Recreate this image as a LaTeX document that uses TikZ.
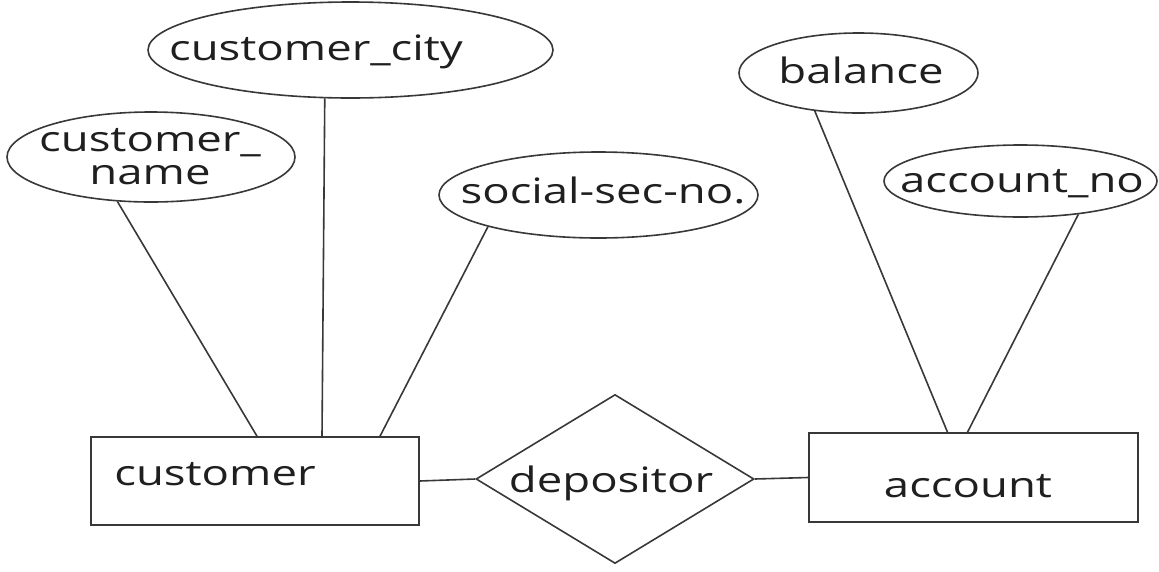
\documentclass[tikz,border=0pt]{standalone}
\usepackage{fontspec}
\setmainfont[FakeStretch=1.3]{Open Sans}
\usetikzlibrary{shapes.geometric}

\begin{document}
\begin{tikzpicture}[
            x=1pt, y=-1pt,
            line width=1.6pt, color=black!78,
            entity/.style={rectangle,draw,inner sep=0pt},
            attribute/.style={ellipse,draw,inner sep=0pt},
            relation/.style={diamond,draw,inner sep=0pt},
            txt/.style={anchor=base,inner sep=0pt,text=black!88,font=\fontsize{35}{33}\selectfont},
            ]
            \useasboundingbox (0,0) rectangle (1159,571);

            % entities and relationship
            \node[entity, minimum width=328pt, minimum height=88pt] (customer) at (255,481) {};
            \node[entity, minimum width=329pt, minimum height=89pt] (account) at (973.5,477.5) {};
            \node[relation, minimum width=278pt, minimum height=169pt] (depositor) at (615,479) {};

            % attributes
            \node[attribute, minimum width=405pt, minimum height=96pt] (city) at (350.5,50) {};
            \node[attribute, minimum width=288pt, minimum height=90pt] (name) at (151,157) {};
            \node[attribute, minimum width=319pt, minimum height=86pt] (ssn) at (598.5,195) {};
            \node[attribute, minimum width=239pt, minimum height=80pt] (balance) at (858.5,73) {};
            \node[attribute, minimum width=273pt, minimum height=72pt] (accno) at (1020.5,181) {};

            % texts
            \node[txt] (customer-t) at (215,485) {customer};
            \node[txt] (account-t) at (968,497) {account};
            \node[txt] (depositor-t) at (611,492) {depositor};
            \node[txt] (city-t) at (316,60) {customer\_city};
            \node[txt, align=center] (name-t) at (150,184) {customer\_\\name};
            \node[txt] (ssn-t) at (603,203) {social-sec-no.};
            \node[txt] (balance-t) at (861,83) {balance};
            \node[txt] (accno-t) at (1022,192) {account\_no};

            \draw (name.233) -- ([xshift=2pt]customer.north);
            \draw (city.242) -- ([xshift=67pt]customer.north);
            \draw (ssn.196) -- ([xshift=125pt]customer.north);
            \draw (balance.221) -- ([xshift=-26pt]account.north);
            \draw (accno.330) -- ([xshift=-6pt]account.north);
            \draw (customer.east) -- (depositor.west);
            \draw (depositor.east) -- (account.west);
        \end{tikzpicture}
\end{document}
